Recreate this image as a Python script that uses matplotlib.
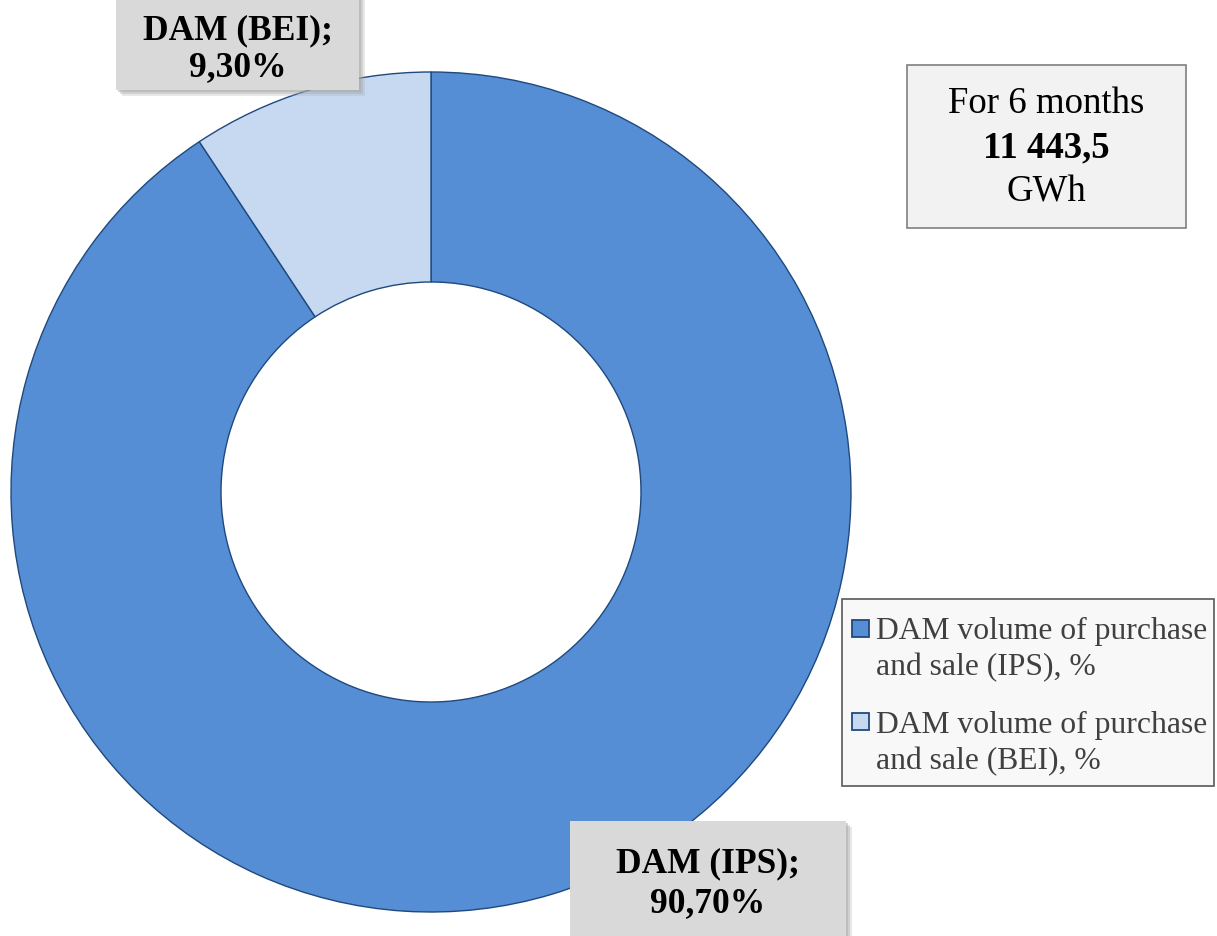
import matplotlib
matplotlib.use("Agg")
import matplotlib.pyplot as plt
from matplotlib.patches import Rectangle

plt.rcParams['font.family'] = ['Liberation Serif', 'DejaVu Serif']

categories = ["DAM volume of purchase\nand sale (IPS), %", "DAM volume of purchase\nand sale (BEI), %"]
short_labels = ["DAM (IPS);", "DAM (BEI);"]
values = [90.70, 9.30]
colors = ["#558ED5", "#C6D9F1"]
info_lines = ["For 6 months", "11 443,5", "GWh"]

W, H = 1217, 937
fig = plt.figure(figsize=(W / 100, H / 100), dpi=100)
ax = fig.add_axes([0, 0, 1, 1])
ax.set_xlim(0, W)
ax.set_ylim(0, H)
ax.set_aspect('equal')
ax.axis('off')

cx, cy, R = 431, H - 493, 420
wedges, _ = ax.pie(values, colors=colors, startangle=90, counterclock=False,
                   radius=R, center=(cx, cy),
                   wedgeprops=dict(width=R * 0.5, edgecolor="#1F497D", linewidth=1.0))
ax.set_xlim(0, W)
ax.set_ylim(0, H)


def label_box(x0, y0, x1, y1, tx, baselines, lines):
    for off, a in ((6, 0.25), (4, 0.35), (2, 0.45)):
        ax.add_patch(Rectangle((x0 + off, H - y1 - off), x1 - x0, y1 - y0, facecolor="#A6A6A6",
                               edgecolor='none', alpha=a, zorder=4))
    ax.add_patch(Rectangle((x0, H - y1), x1 - x0, y1 - y0, facecolor="#D9D9D9",
                           edgecolor='none', zorder=5))
    for b, s in zip(baselines, lines):
        ax.text(tx, H - b, s, ha='center', va='baseline',
                fontsize=25.5, fontweight='bold', color='black', zorder=6)


def pct(v):
    return f"{v:.2f}%".replace('.', ',')


label_box(116, -10, 359, 91, 238, (39, 76), (short_labels[1], pct(values[1])))
label_box(570, 822, 846, 945, 708, (872, 912), (short_labels[0], pct(values[0])))

# info box
ax.add_patch(Rectangle((907, H - 229), 279, 163, facecolor="#F2F2F2", edgecolor="#7F7F7F",
                       linewidth=1.2, zorder=5))
for b, s, wt in zip((113, 157, 201), info_lines, ('normal', 'bold', 'normal')):
    ax.text(1046.5, H - b, s, ha='center', va='baseline', fontsize=26.5,
            fontweight=wt, zorder=6)

# legend (drawn manually so markers align with the first text line)
ax.add_patch(Rectangle((842, H - 787), 372, 187, facecolor="#F8F8F8", edgecolor="#595959",
                       linewidth=1.2, zorder=5))
for i, (lab, col) in enumerate(zip(categories, colors)):
    top = 621 + i * 93
    ax.add_patch(Rectangle((852, H - top - 17), 17, 17, facecolor=col, edgecolor="#1F497D",
                           linewidth=1.3, zorder=6))
    for j, line in enumerate(lab.split("\n")):
        ax.text(876, H - (639 + i * 94 + j * 36), line, ha='left', va='baseline',
                fontsize=22.8, color="#404040", zorder=6)

fig.savefig("out.png", dpi=100)
